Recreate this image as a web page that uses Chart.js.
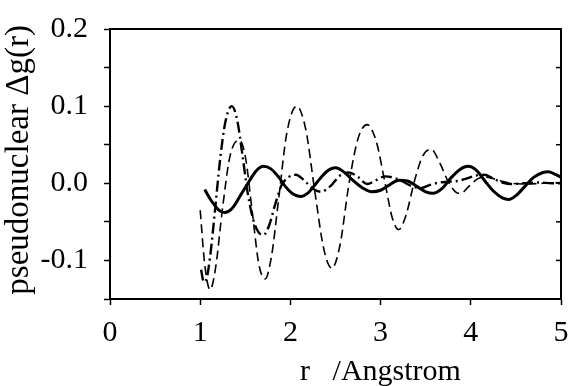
<!DOCTYPE html>
<html>
<head>
<meta charset="utf-8">
<script src="https://cdn.jsdelivr.net/npm/chart.js@4.4.1/dist/chart.umd.min.js"></script>
<style>
  body { margin: 0; background: #fff; }
  #wrap { width: 570px; height: 386px; }
</style>
</head>
<body>
<div id="wrap"><canvas id="chart1"></canvas></div>
<script>
// values
const rSolid = [1.05, 1.12, 1.20, 1.27, 1.35, 1.45, 1.55, 1.62, 1.70, 1.78, 1.87, 1.95, 2.03, 2.11, 2.20, 2.30, 2.40, 2.50, 2.60, 2.70, 2.80, 2.90, 3.00, 3.10, 3.20, 3.30, 3.40, 3.50, 3.58, 3.68, 3.78, 3.88, 3.97, 4.06, 4.15, 4.25, 4.35, 4.42, 4.50, 4.60, 4.70, 4.80, 4.86, 4.93, 5.00];
const gSolid = [-0.008, -0.022, -0.034, -0.038, -0.033, -0.015, 0.004, 0.016, 0.022, 0.019, 0.008, -0.005, -0.014, -0.017, -0.012, 0.002, 0.015, 0.020, 0.014, 0.003, -0.006, -0.011, -0.009, -0.002, 0.004, 0.003, -0.004, -0.011, -0.013, -0.007, 0.007, 0.018, 0.022, 0.017, 0.004, -0.010, -0.019, -0.021, -0.016, -0.004, 0.008, 0.014, 0.015, 0.012, 0.008];

const rDash = [1.00, 1.05, 1.11, 1.17, 1.25, 1.33, 1.43, 1.50, 1.58, 1.65, 1.72, 1.79, 1.87, 1.96, 2.07, 2.17, 2.27, 2.37, 2.46, 2.55, 2.65, 2.75, 2.85, 2.95, 3.05, 3.13, 3.20, 3.28, 3.38, 3.47, 3.56, 3.65, 3.75, 3.83, 3.89, 3.97, 4.08, 4.18, 4.30, 4.45, 4.60, 4.80, 5.00];
const gDash = [-0.035, -0.105, -0.138, -0.110, -0.030, 0.035, 0.056, 0.035, -0.040, -0.105, -0.124, -0.095, -0.020, 0.065, 0.100, 0.070, -0.010, -0.085, -0.110, -0.080, 0.000, 0.058, 0.076, 0.055, 0.000, -0.045, -0.060, -0.042, 0.005, 0.036, 0.044, 0.028, 0.002, -0.011, -0.013, -0.005, 0.006, 0.008, 0.004, 0.000, -0.001, 0.000, 0.001];

const rDashDot = [1.01, 1.04, 1.07, 1.11, 1.16, 1.22, 1.28, 1.35, 1.41, 1.47, 1.53, 1.59, 1.65, 1.70, 1.76, 1.83, 1.90, 1.98, 2.06, 2.15, 2.25, 2.34, 2.45, 2.55, 2.65, 2.75, 2.85, 2.95, 3.05, 3.15, 3.25, 3.35, 3.45, 3.55, 3.65, 3.75, 3.85, 3.95, 4.05, 4.15, 4.25, 4.35, 4.45, 4.60, 4.75, 4.90, 5.00];
const gDashDot = [-0.112, -0.128, -0.124, -0.095, -0.040, 0.030, 0.080, 0.100, 0.082, 0.035, -0.015, -0.048, -0.064, -0.067, -0.056, -0.028, -0.003, 0.008, 0.011, 0.004, -0.007, -0.011, -0.003, 0.010, 0.014, 0.008, -0.001, 0.004, 0.009, 0.007, 0.002, -0.004, -0.006, -0.002, 0.001, 0.002, 0.003, 0.006, 0.010, 0.011, 0.006, 0.001, -0.001, 0.000, 0.001, 0.000, 0.000];

const xRange = [0, 5];
const yRange = [-0.15, 0.2];

function pairs(xs, ys) {
    return xs.map((x, i) => ({ x: x, y: ys[i] }));
}

const serif = 'Liberation Serif, Times New Roman, serif';

// box round the plot + inward ticks on the right side
const frame = {
    id: 'frame',
    afterDraw(chart) {
        const { ctx, chartArea: a, scales } = chart;
        ctx.save();
        ctx.strokeStyle = '#000';
        ctx.lineWidth = 2;
        ctx.beginPath();
        ctx.moveTo(a.left, a.top);
        ctx.lineTo(a.right, a.top);
        ctx.lineTo(a.right, a.bottom);
        ctx.stroke();
        ctx.lineWidth = 1.5;
        scales.y.ticks.forEach(t => {
            const y = scales.y.getPixelForValue(t.value);
            ctx.beginPath();
            ctx.moveTo(a.right, y);
            ctx.lineTo(a.right - 5, y);
            ctx.stroke();
        });
        ctx.restore();
    }
};

const ctx = document.getElementById('chart1').getContext('2d');
const chart1 = new Chart(ctx, {
    type: 'line',
    data: {
        datasets: [{
            label: 'solid',
            data: pairs(rSolid, gSolid),
            borderColor: '#000',
            borderWidth: 3,
        }, {
            label: 'dashed',
            data: pairs(rDash, gDash),
            borderColor: '#000',
            borderWidth: 1.6,
            borderDash: [9, 5],
        }, {
            label: 'dash-dot',
            data: pairs(rDashDot, gDashDot),
            borderColor: '#000',
            borderWidth: 2.4,
            borderDash: [11, 4, 2, 4],
        }]
    },
    options: {
        responsive: true,
        maintainAspectRatio: false,
        animation: false,
        events: [],
        layout: { padding: { top: 29, right: 9 } },
        elements: {
            point: { radius: 0 },
            line: { cubicInterpolationMode: 'monotone', fill: false }
        },
        plugins: {
            legend: { display: false },
            tooltip: { enabled: false }
        },
        scales: {
            x: {
                type: 'linear',
                min: xRange[0],
                max: xRange[1],
                afterFit: s => { s.height = 87; s.paddingLeft = 0; s.paddingRight = 0; },
                ticks: {
                    stepSize: 1,
                    autoSkip: false,
                    maxRotation: 0,
                    color: '#000',
                    padding: 10,
                    font: { family: serif, size: 30 }
                },
                grid: { drawOnChartArea: false, tickLength: 6, color: '#000', tickWidth: 1.5 },
                border: { color: '#000', width: 2 },
                title: {
                    display: true,
                    text: '            r   /Angstrom',
                    color: '#000',
                    font: { family: serif, size: 30 },
                    padding: { top: 0, bottom: -4 }
                }
            },
            y: {
                min: yRange[0],
                max: yRange[1],
                afterFit: s => { s.width = 110; s.paddingTop = 0; s.paddingBottom = 0; },
                ticks: {
                    stepSize: 0.05,
                    autoSkip: false,
                    color: '#000',
                    padding: 16,
                    font: { family: serif, size: 30 },
                    callback: v => {
                        const t = v * 10;
                        return Math.abs(t - Math.round(t)) < 1e-6 ? v.toFixed(1) : '';
                    }
                },
                grid: { drawOnChartArea: false, tickLength: 6, color: '#000', tickWidth: 1.5 },
                border: { color: '#000', width: 2 },
                title: {
                    display: true,
                    text: ' pseudonuclear \u0394g(r)',
                    color: '#000',
                    font: { family: serif, size: 33 },
                    padding: { top: 0, bottom: 0 }
                }
            }
        }
    },
    plugins: [frame]
});
</script>
</body>
</html>
